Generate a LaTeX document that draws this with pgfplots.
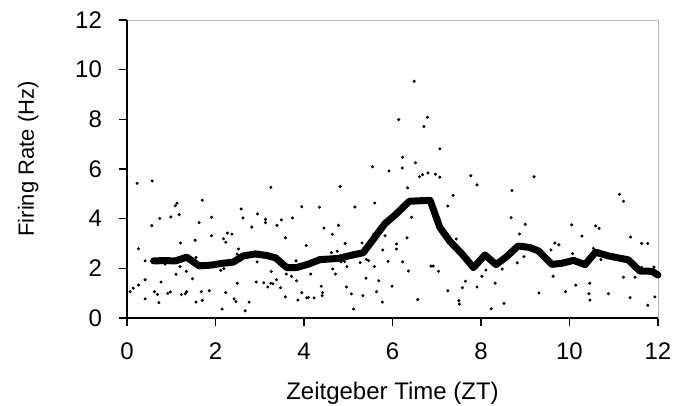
\documentclass[border=0pt]{standalone}
\usepackage{fontspec}
\setmainfont{Liberation Sans}
\usepackage{pgfplots}
\pgfplotsset{compat=1.18}

\begin{document}
\begin{tikzpicture}
\begin{axis}[
  name=ax,
  scale only axis,
  width=265.5pt, height=149pt,
  xmin=0, xmax=12, ymin=0, ymax=12,
  xtick={0,2,...,12}, ytick={0,2,...,12},
  tick pos=left, tick align=outside,
  major tick length=4pt,
  tick style={black, line width=0.6pt},
  axis line style={gray!55, line width=0.4pt},
  /pgf/number format/assume math mode=true,
  ticklabel style={font=\fontsize{12}{14}\selectfont},
  xticklabel style={yshift=-5pt},
  yticklabel style={xshift=-5pt},
  label style={font=\fontsize{12}{14}\selectfont},
  xlabel={Zeitgeber Time (ZT)},
  ylabel={Firing Rate (Hz)},
  xlabel style={at={([yshift=-41pt]axis description cs:0.5,0)}, anchor=base},
  ylabel style={at={([xshift=-46.5pt,yshift=5pt]axis description cs:0,0.5)}, anchor=base,
    font=\fontsize{11}{13}\selectfont},
  clip=false,
]
% single-unit firing rates
\addplot[only marks, mark=*, mark size=0.55pt, black] table {
0.23 5.42
0.57 5.52
1.13 4.62
1.09 4.52
1.70 4.74
0.74 4.01
0.99 4.07
1.18 4.16
0.56 3.72
1.63 3.84
1.91 4.06
2.58 4.39
2.62 4.03
2.95 4.19
2.82 3.66
1.91 3.31
1.54 3.13
1.21 3.02
2.18 3.19
2.23 3.05
2.27 3.42
2.37 3.38
0.26 2.79
2.52 2.78
2.49 2.57
0.41 2.30
1.56 2.44
2.94 2.26
0.86 2.17
1.20 2.07
1.34 1.88
1.11 1.76
2.19 1.99
2.12 1.92
1.48 1.58
0.41 1.54
0.77 1.45
2.49 1.40
2.92 1.45
0.26 1.33
0.14 1.20
0.07 1.06
0.62 1.06
0.69 0.95
0.92 0.99
0.98 1.05
1.23 0.94
1.32 0.98
1.35 1.06
1.68 1.06
1.86 1.10
2.23 1.02
0.41 0.77
0.72 0.62
1.56 0.64
1.70 0.71
2.42 0.77
2.46 0.66
2.76 0.64
2.15 0.36
2.67 0.29
5.55 6.09
5.92 5.92
3.25 5.26
4.82 5.29
3.95 4.48
4.35 4.46
5.15 4.47
5.60 4.63
3.13 3.97
3.13 3.84
3.49 3.95
3.74 4.03
3.39 3.73
4.78 3.73
4.45 3.62
4.64 3.37
3.58 3.23
4.05 2.92
4.93 3.00
5.31 3.02
5.57 3.37
5.83 3.31
5.78 2.74
4.62 2.63
4.75 2.69
5.90 2.28
5.41 2.36
5.46 2.31
5.27 2.23
5.59 2.07
4.84 2.26
4.92 2.27
4.97 2.07
4.34 2.44
3.82 2.30
4.65 1.97
4.71 1.77
4.15 1.77
3.26 1.87
3.60 1.77
3.72 1.68
3.83 1.50
3.38 1.54
5.40 1.60
5.69 1.50
3.09 1.42
3.25 1.40
3.30 1.38
3.18 1.25
3.47 1.22
4.39 1.28
4.96 1.25
5.99 1.28
3.95 1.02
4.42 1.02
4.41 0.90
5.07 0.97
5.64 1.06
3.58 0.85
3.86 0.72
4.06 0.81
4.10 0.83
4.23 0.81
5.33 0.90
5.77 0.64
5.12 0.36
6.23 6.47
6.52 6.25
6.22 6.04
6.61 5.69
6.68 5.77
6.80 5.84
6.97 5.79
7.07 5.67
7.77 5.73
7.91 5.36
6.34 5.24
7.37 4.94
7.25 4.51
8.70 5.13
8.68 4.04
9.00 3.77
8.87 3.38
6.43 4.06
6.33 3.23
7.44 3.18
6.09 2.98
6.09 2.78
6.23 2.26
6.36 1.89
6.87 2.09
6.92 2.09
7.04 1.88
8.97 2.47
8.82 2.22
8.48 1.97
8.11 1.93
8.02 1.68
8.32 1.40
7.65 1.48
7.58 1.22
7.91 1.25
7.25 1.10
6.57 0.74
7.50 0.70
7.51 0.56
8.52 0.59
8.23 0.37
6.49 9.53
6.14 7.99
6.79 8.08
6.71 7.71
7.07 6.81
9.20 5.69
11.13 4.98
11.22 4.70
10.05 3.75
10.59 3.71
10.67 3.61
10.28 3.30
11.38 3.26
9.67 3.02
9.76 2.95
11.63 3.00
11.77 3.00
9.58 2.74
10.54 2.80
10.07 2.59
10.71 2.35
11.63 2.04
11.91 2.05
9.63 1.68
11.22 1.64
11.48 1.64
10.46 1.40
10.14 1.32
9.31 1.01
9.91 1.06
10.44 0.98
10.88 0.98
11.37 0.82
11.93 0.85
10.46 0.72
11.77 0.51
};
% running mean
\addplot[black, line width=3.5pt, line join=round, line cap=round] table {
0.60 2.30
0.85 2.31
1.10 2.30
1.35 2.45
1.63 2.10
1.90 2.13
2.15 2.20
2.40 2.25
2.63 2.50
2.90 2.58
3.15 2.52
3.36 2.42
3.61 2.03
3.83 2.03
4.10 2.17
4.36 2.35
4.78 2.40
5.08 2.53
5.34 2.63
5.60 3.25
5.83 3.80
6.06 4.15
6.38 4.70
6.85 4.74
7.07 3.65
7.30 3.08
7.56 2.60
7.83 2.03
8.09 2.54
8.34 2.15
8.58 2.47
8.84 2.90
9.10 2.84
9.30 2.70
9.60 2.16
9.82 2.20
10.09 2.32
10.35 2.15
10.59 2.65
10.88 2.50
11.33 2.34
11.59 1.89
11.86 1.88
12.00 1.73
};
\draw[black, line width=0.75pt] (rel axis cs:0,1) -- (rel axis cs:0,0) -- (rel axis cs:1,0);
\end{axis}
\pgfresetboundingbox
\path[use as bounding box] ([xshift=-63.5pt,yshift=-44pt]ax.south west) rectangle ([xshift=14.5pt,yshift=10pt]ax.north east);
\end{tikzpicture}
\end{document}
